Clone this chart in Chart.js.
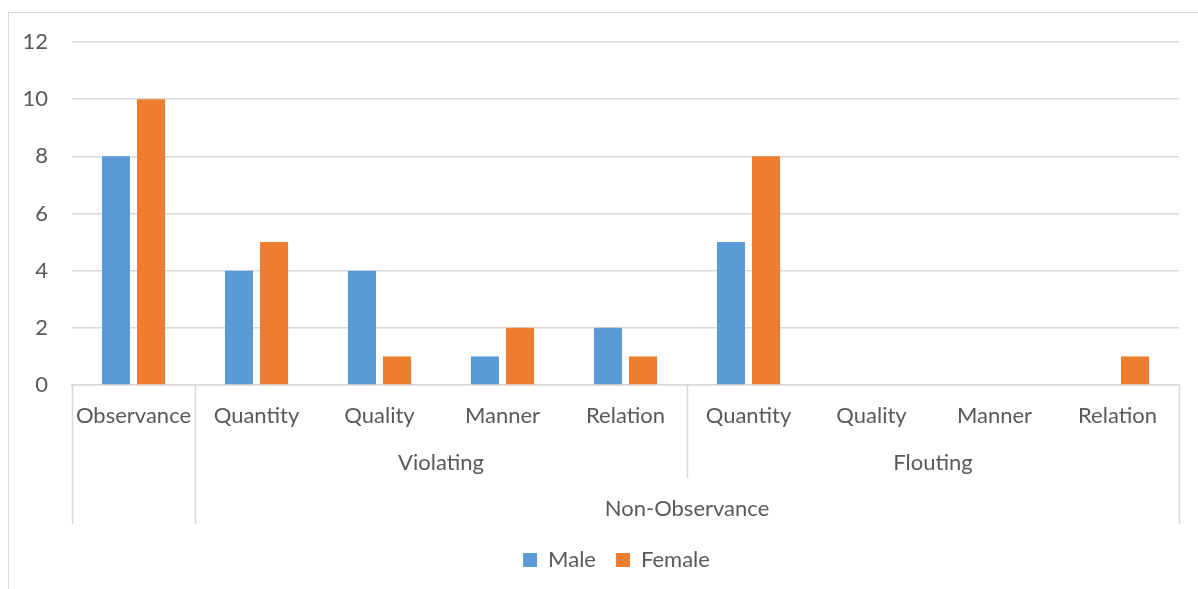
<!DOCTYPE html>
<html>
<head>
<meta charset="utf-8">
<script src="https://cdn.jsdelivr.net/npm/chart.js@4"></script>
<style>
  html, body { margin: 0; padding: 0; background: #fff; }
  #wrap { position: relative; width: 1198px; height: 589px; overflow: hidden; }
  #frame { position: absolute; left: 8px; top: 12px; width: 1300px; height: 700px;
           border-left: 1.5px solid #d9d9d9; border-top: 1.5px solid #d9d9d9; }
  canvas { position: absolute; left: 0; top: 0; }
</style>
</head>
<body>
<div id="wrap">
  <div id="frame"></div>
  <canvas id="c" width="1198" height="589"></canvas>
</div>
<script>
// Category labels (innermost level) and their parent groups
const categories = ['Observance', 'Quantity', 'Quality', 'Manner', 'Relation',
                    'Quantity', 'Quality', 'Manner', 'Relation'];
// Second level: [label, first index, last index]
const subGroups = [['Violating', 1, 4], ['Flouting', 5, 8]];
// Third level
const topGroups = [['Non-Observance', 1, 8]];

const maleCounts   = [8, 4, 4, 1, 2, 5, 0, 0, 0];
const femaleCounts = [10, 5, 1, 2, 1, 8, 0, 0, 1];

const yTicks = [0, 2, 4, 6, 8, 10, 12];

const FONT = 'Lato, "Open Sans", sans-serif';
const SIZE = 22;
const TEXT = '#595959';
const LINE = '#d9d9d9';

// Draws the grouped category levels and their separators below the x axis
const groupAxis = {
  id: 'groupAxis',
  afterLayout(chart) {
    // nudge the legend so it sits centred under the plot area
    const lg = chart.legend;
    if (lg) {
      lg.left += 27; lg.right += 27;
      lg.top -= 2; lg.bottom -= 2;
    }
  },
  afterDraw(chart) {
    const x = chart.scales.x;
    const ctx = chart.ctx;
    const half = (x.getPixelForValue(1) - x.getPixelForValue(0)) / 2;
    const left = i => x.getPixelForValue(i) - half;
    const right = i => x.getPixelForValue(i) + half;
    const top = x.top;

    ctx.save();
    ctx.strokeStyle = LINE;
    ctx.lineWidth = 1.5;
    const vline = (px, bottom) => {
      ctx.beginPath();
      ctx.moveTo(Math.round(px) + 0.5, top);
      ctx.lineTo(Math.round(px) + 0.5, bottom);
      ctx.stroke();
    };
    const longBottom = top + 139;
    const shortBottom = top + 93;
    vline(left(0), longBottom);
    vline(right(categories.length - 1), longBottom);
    topGroups.forEach(g => vline(left(g[1]), longBottom));
    subGroups.forEach((g, k) => { if (k > 0) vline(left(g[1]), shortBottom); });

    ctx.fillStyle = TEXT;
    ctx.font = SIZE + 'px ' + FONT;
    ctx.textAlign = 'center';
    ctx.textBaseline = 'middle';
    subGroups.forEach(g => {
      ctx.fillText(g[0], (left(g[1]) + right(g[2])) / 2, top + 78);
    });
    topGroups.forEach(g => {
      ctx.fillText(g[0], (left(g[1]) + right(g[2])) / 2, top + 124);
    });
    ctx.restore();
  }
};

new Chart(document.getElementById('c'), {
  type: 'bar',
  data: {
    labels: categories,
    datasets: [
      { label: 'Male', data: maleCounts, backgroundColor: '#5B9BD5', borderWidth: 0 },
      { label: 'Female', data: femaleCounts, backgroundColor: '#ED7D31', borderWidth: 0 }
    ]
  },
  options: {
    responsive: false,
    animation: false,
    categoryPercentage: 0.57,
    barPercentage: 0.8,
    layout: { padding: { top: 42, left: 0, right: 19, bottom: 6 } },
    scales: {
      x: {
        grid: { display: false },
        border: { display: true, color: LINE, width: 1.5 },
        ticks: { color: TEXT, font: { family: FONT, size: SIZE }, padding: 10, maxRotation: 0, autoSkip: false },
        afterFit(s) { s.height = 146; }
      },
      y: {
        min: 0, max: 12,
        afterBuildTicks(s) { s.ticks = yTicks.map(v => ({ value: v })); },
        grid: { color: LINE, lineWidth: 1.5, drawTicks: false },
        border: { display: false },
        ticks: { color: TEXT, font: { family: FONT, size: SIZE }, padding: 24 },
        afterFit(s) { s.width = 72; }
      }
    },
    plugins: {
      legend: {
        position: 'bottom',
        labels: { color: TEXT, font: { family: FONT, size: SIZE }, boxWidth: 14, boxHeight: 14, padding: 20 }
      },
      tooltip: { enabled: false }
    }
  },
  plugins: [groupAxis]
});
</script>
</body>
</html>
